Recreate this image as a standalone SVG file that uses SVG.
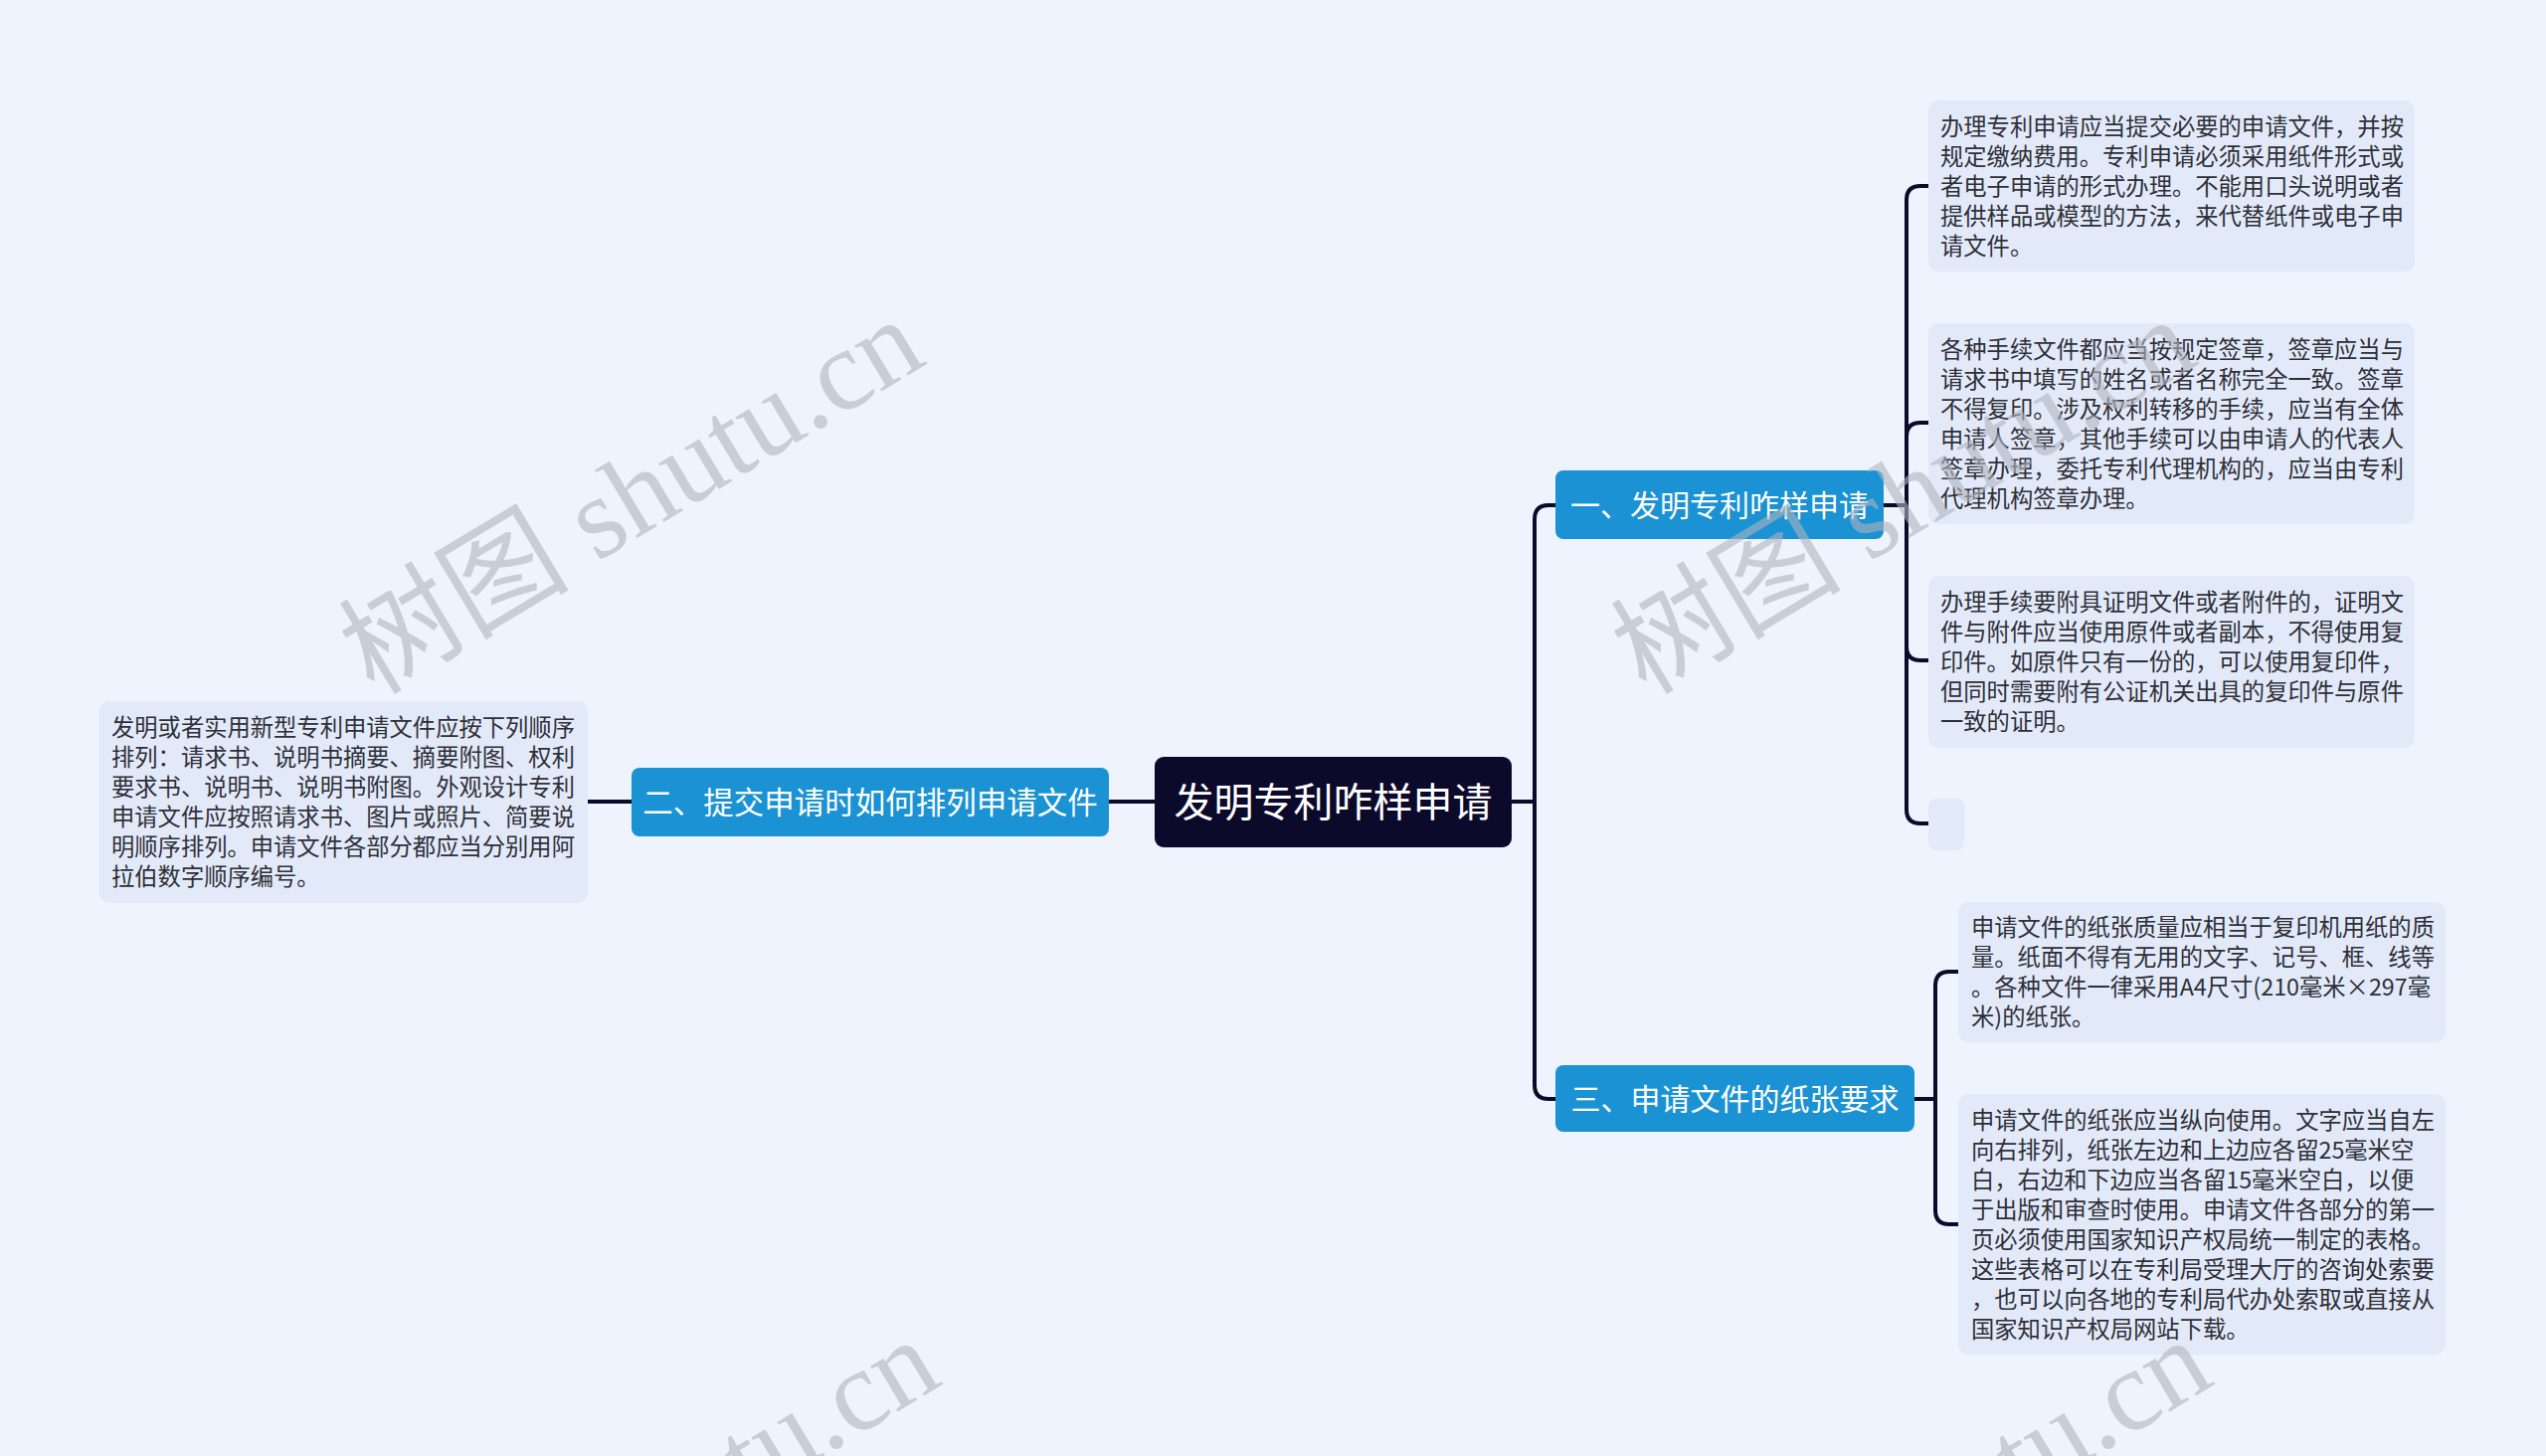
<svg xmlns="http://www.w3.org/2000/svg" width="2560" height="1464" viewBox="0 0 2560 1464">
<style>
.bg{fill:#eef3fd}
.leaf{fill:#e2eaf9}
.topic{fill:#1a92d3}
.root{fill:#0c0a2b}
.conn{fill:none;stroke:#0c0a2b;stroke-width:4;stroke-linecap:round}
.lt{font-family:"Noto Sans CJK SC","Noto Sans",sans-serif;font-size:23.3px;fill:#2f2f37}
.tt{font-family:"Noto Sans CJK SC","Noto Sans",sans-serif;fill:#ffffff;text-anchor:middle}
.wm{font-family:"Liberation Serif","Noto Sans CJK SC",serif;font-size:116px;fill:#afb4be;opacity:0.6}
</style>
<rect class="bg" x="0" y="0" width="2560" height="1464"/>

<g id="connectors">
  <path class="conn" d="M1115,806 H1161"/>
  <path class="conn" d="M591,806 H635"/>
  <path class="conn" d="M1520,806 H1543 V522 Q1543,508 1557,508 H1564"/>
  <path class="conn" d="M1520,806 H1543 V1091 Q1543,1105 1557,1105 H1564"/>
  <path class="conn" d="M1894,508 H1917 V201 Q1917,187 1931,187 H1939"/>
  <path class="conn" d="M1894,508 H1917 V439 Q1917,425 1931,425 H1939"/>
  <path class="conn" d="M1894,508 H1917 V650 Q1917,664 1931,664 H1939"/>
  <path class="conn" d="M1894,508 H1917 V814 Q1917,828 1931,828 H1939"/>
  <path class="conn" d="M1925,1105 H1946 V991 Q1946,977 1960,977 H1969"/>
  <path class="conn" d="M1925,1105 H1946 V1217 Q1946,1231 1960,1231 H1969"/>
</g>

<g id="root">
  <rect class="root" x="1161" y="761" width="359" height="91" rx="9"/>
  <text class="tt" x="1340.5" y="821" font-size="40">发明专利咋样申请</text>
</g>

<g id="topic2">
  <rect class="topic" x="635" y="772" width="480" height="69" rx="8"/>
  <text class="tt" x="875" y="818" font-size="30.5">二、提交申请时如何排列申请文件</text>
</g>

<g id="leaf-left">
  <rect class="leaf" x="100" y="705" width="491" height="203" rx="10"/>
  <text class="lt" x="112" y="740">
    <tspan x="112" y="740">发明或者实用新型专利申请文件应按下列顺序</tspan>
    <tspan x="112" dy="30">排列：请求书、说明书摘要、摘要附图、权利</tspan>
    <tspan x="112" dy="30">要求书、说明书、说明书附图。外观设计专利</tspan>
    <tspan x="112" dy="30">申请文件应按照请求书、图片或照片、简要说</tspan>
    <tspan x="112" dy="30">明顺序排列。申请文件各部分都应当分别用阿</tspan>
    <tspan x="112" dy="30">拉伯数字顺序编号。</tspan>
  </text>
</g>

<g id="topic1">
  <rect class="topic" x="1564" y="473" width="330" height="69" rx="8"/>
  <text class="tt" x="1729" y="519" font-size="30">一、发明专利咋样申请</text>
</g>

<g id="leaf1">
  <rect class="leaf" x="1939" y="101" width="489" height="172" rx="10"/>
  <text class="lt" x="1951" y="136">
    <tspan x="1951" y="136">办理专利申请应当提交必要的申请文件，并按</tspan>
    <tspan x="1951" dy="30">规定缴纳费用。专利申请必须采用纸件形式或</tspan>
    <tspan x="1951" dy="30">者电子申请的形式办理。不能用口头说明或者</tspan>
    <tspan x="1951" dy="30">提供样品或模型的方法，来代替纸件或电子申</tspan>
    <tspan x="1951" dy="30">请文件。</tspan>
  </text>
</g>

<g id="leaf2">
  <rect class="leaf" x="1939" y="325" width="489" height="202" rx="10"/>
  <text class="lt" x="1951" y="360">
    <tspan x="1951" y="360">各种手续文件都应当按规定签章，签章应当与</tspan>
    <tspan x="1951" dy="30">请求书中填写的姓名或者名称完全一致。签章</tspan>
    <tspan x="1951" dy="30">不得复印。涉及权利转移的手续，应当有全体</tspan>
    <tspan x="1951" dy="30">申请人签章，其他手续可以由申请人的代表人</tspan>
    <tspan x="1951" dy="30">签章办理，委托专利代理机构的，应当由专利</tspan>
    <tspan x="1951" dy="30">代理机构签章办理。</tspan>
  </text>
</g>

<g id="leaf3">
  <rect class="leaf" x="1939" y="579" width="489" height="173" rx="10"/>
  <text class="lt" x="1951" y="614">
    <tspan x="1951" y="614">办理手续要附具证明文件或者附件的，证明文</tspan>
    <tspan x="1951" dy="30">件与附件应当使用原件或者副本，不得使用复</tspan>
    <tspan x="1951" dy="30">印件。如原件只有一份的，可以使用复印件，</tspan>
    <tspan x="1951" dy="30">但同时需要附有公证机关出具的复印件与原件</tspan>
    <tspan x="1951" dy="30">一致的证明。</tspan>
  </text>
</g>

<g id="leaf4">
  <rect class="leaf" x="1939" y="803" width="36" height="52" rx="8"/>
</g>

<g id="topic3">
  <rect class="topic" x="1564" y="1071" width="361" height="67" rx="8"/>
  <text class="tt" x="1744.5" y="1116" font-size="30">三、申请文件的纸张要求</text>
</g>

<g id="leaf5">
  <rect class="leaf" x="1969" y="907" width="490" height="141" rx="10"/>
  <text class="lt" x="1982" y="941">
    <tspan x="1982" y="941">申请文件的纸张质量应相当于复印机用纸的质</tspan>
    <tspan x="1982" dy="30">量。纸面不得有无用的文字、记号、框、线等</tspan>
    <tspan x="1982" dy="30">。各种文件一律采用A4尺寸(210毫米×297毫</tspan>
    <tspan x="1982" dy="30">米)的纸张。</tspan>
  </text>
</g>

<g id="leaf6">
  <rect class="leaf" x="1969" y="1100" width="490" height="262" rx="10"/>
  <text class="lt" x="1982" y="1135">
    <tspan x="1982" y="1135">申请文件的纸张应当纵向使用。文字应当自左</tspan>
    <tspan x="1982" dy="30">向右排列，纸张左边和上边应各留25毫米空</tspan>
    <tspan x="1982" dy="30">白，右边和下边应当各留15毫米空白，以便</tspan>
    <tspan x="1982" dy="30">于出版和审查时使用。申请文件各部分的第一</tspan>
    <tspan x="1982" dy="30">页必须使用国家知识产权局统一制定的表格。</tspan>
    <tspan x="1982" dy="30">这些表格可以在专利局受理大厅的咨询处索要</tspan>
    <tspan x="1982" dy="30">，也可以向各地的专利局代办处索取或直接从</tspan>
    <tspan x="1982" dy="30">国家知识产权局网站下载。</tspan>
  </text>
</g>

<g id="watermarks">
  <text class="wm" x="376" y="700" transform="rotate(-31 376 700)">树图 shutu.cn</text>
  <text class="wm" x="1655" y="700" transform="rotate(-31 1655 700)">树图 shutu.cn</text>
  <text class="wm" x="392" y="1726" transform="rotate(-31 392 1726)">树图 shutu.cn</text>
  <text class="wm" x="1671" y="1726" transform="rotate(-31 1671 1726)">树图 shutu.cn</text>
</g>
</svg>
